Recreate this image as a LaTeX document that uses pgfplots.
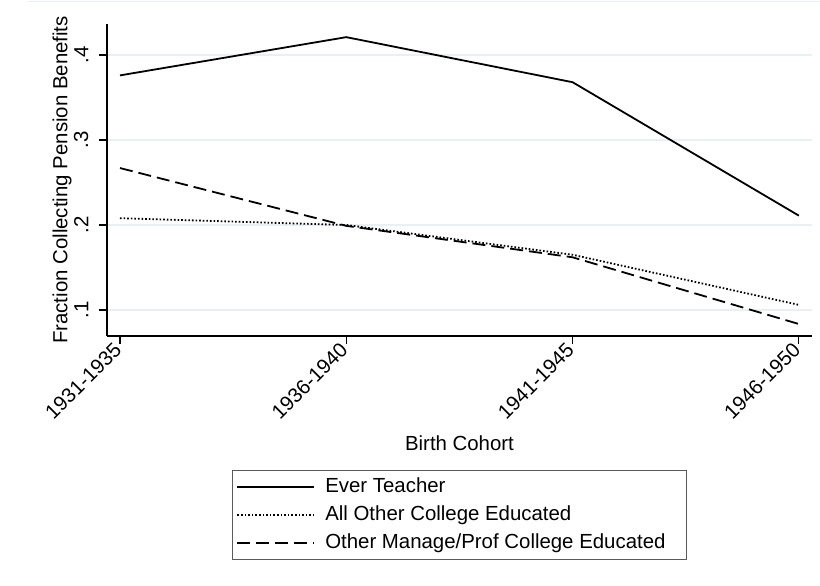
\documentclass[border=0pt]{standalone}
\usepackage{pgfplots}
\pgfplotsset{compat=1.18}
\usepackage{fontspec}
\setmainfont{Liberation Sans}
\definecolor{gridc}{RGB}{232,240,242}
\definecolor{legc}{RGB}{90,90,90}
\begin{document}
\fontsize{20.4}{24}\selectfont
\begin{tikzpicture}[x=1pt,y=1pt]
\useasboundingbox (0,0) rectangle (820,586);
\draw[gridc, line width=1pt] (28,584) -- (820,584);
\begin{axis}[
  at={(107pt,250pt)}, anchor=south west,
  scale only axis, width=705pt, height=312pt,
  xmin=-0.0574, xmax=3.058, ymin=0.06941, ymax=0.43647,
  axis x line*=bottom, axis y line*=left,
  axis line style={line width=1.2pt, black},
  xtick={0,1,2,3}, xticklabels={1931-1935,1936-1940,1941-1945,1946-1950},
  ytick={0.1,0.2,0.3,0.4}, yticklabels={.1,.2,.3,.4},
  tick align=outside, major tick length=8pt,
  tick style={line width=1.2pt, black},
  xticklabel style={rotate=45, anchor=east, inner sep=3pt, font=\fontsize{20.4}{24}\selectfont},
  yticklabel style={rotate=90, anchor=south, inner ysep=10.5pt, font=\fontsize{20.4}{24}\selectfont},
  /pgf/number format/assume math mode=true,
  ymajorgrids, grid style={gridc, line width=1.5pt},
  xlabel={Birth Cohort},
  xlabel style={at={(axis description cs:0.5,-0.343)}, anchor=center, font=\fontsize{20.4}{24}\selectfont},
  ylabel={Fraction Collecting Pension Benefits},
  ylabel style={at={(axis description cs:-0.0638,0.5)}, anchor=center, font=\fontsize{20.4}{24}\selectfont},
  legend style={at={(axis description cs:0.1773,-0.4295)}, anchor=north west,
    draw=legc, line width=1pt, font=\fontsize{20.4}{24}\selectfont,
    inner xsep=4pt, inner ysep=5pt, row sep=4.6pt, column sep=8pt,
    nodes={inner sep=2pt, text depth=0.2em, text height=0.75em},
    cells={anchor=west}},
  legend image code/.code={\draw[#1] (0pt,0pt) -- (77pt,0pt);},
]
\addplot[black, line width=1.8pt] coordinates {(0,0.376) (1,0.421) (2,0.368) (3,0.211)};
\addlegendentry{Ever Teacher}
\addplot[black, line width=1.8pt, dash pattern=on 1.6pt off 2pt] coordinates {(0,0.208) (1,0.200) (2,0.165) (3,0.106)};
\addlegendentry{All Other College Educated}
\addplot[black, line width=1.8pt, dash pattern=on 13pt off 6pt] coordinates {(0,0.267) (1,0.199) (2,0.162) (3,0.0835)};
\addlegendentry{Other Manage/Prof College Educated\rule{15pt}{0pt}}
\end{axis}
\end{tikzpicture}
\end{document}
